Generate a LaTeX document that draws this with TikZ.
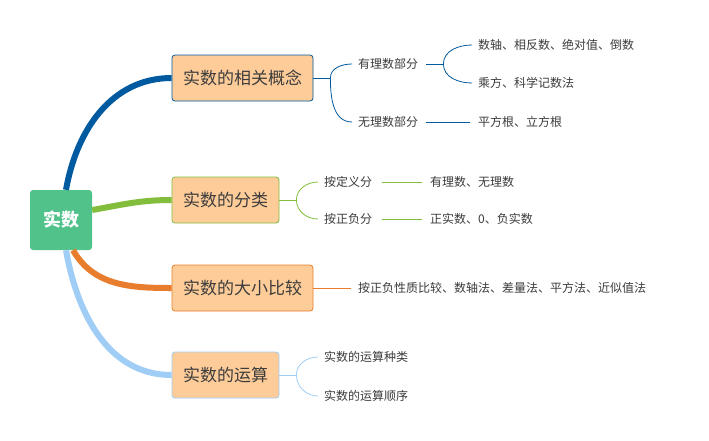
\documentclass[tikz,border=0pt]{standalone}
\usepackage{fontspec}
\setmainfont{Noto Sans CJK SC}
\usetikzlibrary{positioning}
\definecolor{rootgreen}{RGB}{80, 194, 138}
\definecolor{peach}{RGB}{253, 204, 153}
\definecolor{lineblue}{RGB}{0, 90, 160}
\definecolor{linegreen}{RGB}{130, 190, 60}
\definecolor{lineorange}{RGB}{232, 125, 45}
\definecolor{linesky}{RGB}{160, 205, 245}
\definecolor{txtgray}{RGB}{60, 60, 60}
\tikzset{
    rootbox/.style={rectangle, rounded corners=3pt, fill=rootgreen, text=white,
                    minimum width=62pt, minimum height=60pt, font=\fontsize{18}{20}\selectfont\bfseries},
    topicbox/.style={rectangle, rounded corners=3pt, fill=peach, draw=#1, line width=0.8pt,
                     minimum height=46pt, inner xsep=8pt, text=txtgray, font=\fontsize{17}{19}\selectfont},
    leaf/.style={anchor=west, inner sep=0pt, text=txtgray, font=\fontsize{12}{14}\selectfont},
    mainline/.style={line width=6pt, #1},
    subline/.style={line width=0.8pt, #1},
}
\begin{document}
\begin{tikzpicture}[x=1pt, y=-1pt]
    % canvas
    \fill[white] (0,0) rectangle (709,440);

    % root and topics
    \node[rootbox] (root) at (61,220) {实数};
    \node[topicbox=lineblue, minimum width=141pt] (t1) at (242.5,78) {实数的相关概念};
    \node[topicbox=linegreen, minimum width=107pt] (t2) at (225.5,200) {实数的分类};
    \node[topicbox=lineorange, minimum width=141pt] (t3) at (242.5,288) {实数的大小比较};
    \node[topicbox=linesky, minimum width=107pt] (t4) at (225.5,375) {实数的运算};

    % main branches
    \draw[mainline=lineblue] ([xshift=5pt]root.north) to[out=80, in=180] (t1.west);
    \draw[mainline=linegreen] ([yshift=10pt]root.east) to[out=10, in=180] (t2.west);
    \draw[mainline=lineorange] ([xshift=12pt]root.south) to[out=-60, in=180] (t3.west);
    \draw[mainline=linesky] ([xshift=5pt]root.south) to[out=-80, in=180] (t4.west);

    % concepts
    \node[leaf] (c1) at (358,64) {有理数部分};
    \node[leaf] (c2) at (358,122) {无理数部分};
    \node[leaf] (c11) at (478,45) {数轴、相反数、绝对值、倒数};
    \node[leaf] (c12) at (478,83) {乘方、科学记数法};
    \node[leaf] (c21) at (478,122) {平方根、立方根};
    \draw[subline=lineblue] (t1.east) -- ++(17,0) coordinate (j1);
    \draw[subline=lineblue] (j1) to[out=90, in=180] ([xshift=-6pt]c1.west);
    \draw[subline=lineblue] (j1) to[out=-90, in=180] ([xshift=-6pt]c2.west);
    \draw[subline=lineblue] ([xshift=8pt]c1.east) -- ++(17,0) coordinate (j2);
    \draw[subline=lineblue] (j2) to[out=90, in=180] ([xshift=-6pt]c11.west);
    \draw[subline=lineblue] (j2) to[out=-90, in=180] ([xshift=-6pt]c12.west);
    \draw[subline=lineblue] ([xshift=8pt]c2.east) -- ([xshift=-8pt]c21.west);

    % classes
    \node[leaf] (k1) at (324,182) {按定义分};
    \node[leaf] (k2) at (324,219) {按正负分};
    \node[leaf] (k11) at (430,182) {有理数、无理数};
    \node[leaf] (k21) at (430,219) {正实数、0、负实数};
    \draw[subline=linegreen] (t2.east) -- ++(17,0) coordinate (j3);
    \draw[subline=linegreen] (j3) to[out=90, in=180] ([xshift=-6pt]k1.west);
    \draw[subline=linegreen] (j3) to[out=-90, in=180] ([xshift=-6pt]k2.west);
    \draw[subline=linegreen] ([xshift=10pt]k1.east) -- ([xshift=-8pt]k11.west);
    \draw[subline=linegreen] ([xshift=10pt]k2.east) -- ([xshift=-8pt]k21.west);

    % compare
    \node[leaf] (m1) at (358,288) {按正负性质比较、数轴法、差量法、平方法、近似值法};
    \draw[subline=lineorange] (t3.east) -- ([xshift=-7pt]m1.west);

    % operations
    \node[leaf] (p1) at (324,357) {实数的运算种类};
    \node[leaf] (p2) at (324,396) {实数的运算顺序};
    \draw[subline=linesky] (t4.east) -- ++(17,0) coordinate (j4);
    \draw[subline=linesky] (j4) to[out=90, in=180] ([xshift=-6pt]p1.west);
    \draw[subline=linesky] (j4) to[out=-90, in=180] ([xshift=-6pt]p2.west);
\end{tikzpicture}
\end{document}
